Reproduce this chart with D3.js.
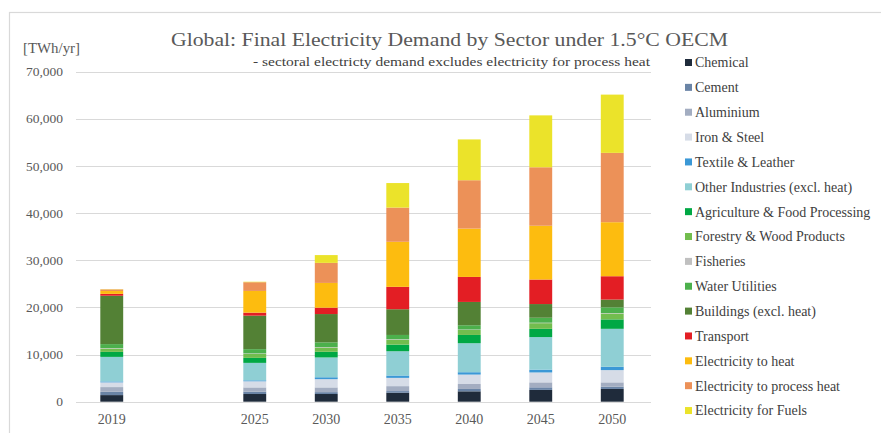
<!DOCTYPE html>
<html>
<head>
<meta charset="utf-8">
<script src="https://cdn.jsdelivr.net/npm/d3@7"></script>
<style>
  html, body { margin: 0; padding: 0; background: #fff; }
  svg { display: block; }
</style>
</head>
<body>
<svg id="chart" width="881" height="433" font-family="'Liberation Serif', 'DejaVu Serif', serif"></svg>
<script>
// ---- data ----
const categories = ["2019", "gap", "2025", "2030", "2035", "2040", "2045", "2050"];
const years = ["2019", "2025", "2030", "2035", "2040", "2045", "2050"];
const sectors = [
  "Chemical", "Cement", "Aluminium", "Iron & Steel", "Textile & Leather",
  "Other Industries (excl. heat)", "Agriculture & Food Processing",
  "Forestry & Wood Products", "Fisheries", "Water Utilities",
  "Buildings (excl. heat)", "Transport", "Electricity to heat",
  "Electricity to process heat", "Electricity for Fuels"
];
const sectorColors = [
  "#1f2b3b", "#6a84a6", "#a3adc1", "#d6dce7", "#3b98d6",
  "#8fcfd4", "#00a844", "#72bd4e", "#c0c0c0", "#4cb04c",
  "#538135", "#e31e24", "#fdbc0f", "#ec9158", "#ebe32a"
];
// values in TWh/yr, one array per sector, aligned to `years`
const chemical      = [1400, 1630, 1630, 1900, 2200, 2500, 2700];
const cement        = [ 700,  500,  400,  350,  500,  550,  500];
const aluminium     = [1000,  900, 1000, 1050, 1050, 1050,  900];
const ironSteel     = [1000, 1300, 1750, 1750, 2000, 2100, 2600];
const textile       = [ 200,  200,  400,  500,  500,  600,  700];
const otherInd      = [5200, 3700, 4200, 5150, 6150, 6900, 8050];
const agriculture   = [1060, 1060, 1200, 1400, 1750, 1750, 2000];
const forestry      = [ 700,  850,  900, 1050, 1050, 1200, 1250];
const fisheries     = [ 100,  100,  100,  100,  100,  100,  100];
const water         = [ 850,  900, 1000,  900,  900, 1050, 1200];
const buildings     = [10250, 7100, 6000, 5450, 4950, 2900, 1650];
const transport     = [ 400,  640, 1350, 4750, 5300, 5200, 4950];
const elecHeat      = [ 600, 4600, 5250, 9550, 10250, 11400, 11450];
const processHeat   = [ 350, 1850, 4250, 7250, 10250, 12400, 14700];
const fuels         = [  50,  100, 1650, 5200, 8650, 11000, 12350];
const seriesValues = [chemical, cement, aluminium, ironSteel, textile, otherInd,
  agriculture, forestry, fisheries, water, buildings, transport, elecHeat, processHeat, fuels];
const yTicks = [0, 10000, 20000, 30000, 40000, 50000, 60000, 70000];

// ---- build table ----
const table = years.map((y, i) => {
  const row = { year: y };
  sectors.forEach((s, j) => row[s] = seriesValues[j][i]);
  return row;
});

const svg = d3.select("#chart");

// chart frame
svg.append("rect").attr("x", 9.5).attr("y", 12.5).attr("width", 900).attr("height", 450)
  .attr("fill", "none").attr("stroke", "#d9d9d9").attr("stroke-width", 1.2);

const x = d3.scaleBand().domain(categories).range([76, 648]).paddingInner(0.68).paddingOuter(0.34);
const y = d3.scaleLinear().domain([0, 70000]).range([401.7, 71.5]);

// gridlines
svg.append("g").selectAll("line").data(yTicks).join("line")
  .attr("x1", 76).attr("x2", 651)
  .attr("y1", d => Math.round(y(d)) + 0.5).attr("y2", d => Math.round(y(d)) + 0.5)
  .attr("stroke", "#d9d9d9").attr("stroke-width", 1);

// y axis labels
const fmt = d3.format(",");
svg.append("g").selectAll("text").data(yTicks).join("text")
  .attr("x", 63).attr("y", d => y(d)).attr("dy", "0.35em")
  .attr("text-anchor", "end").attr("font-size", 13.5).attr("fill", "#595959")
  .text(d => fmt(d));

// bars
const stack = d3.stack().keys(sectors);
const stacked = stack(table);
svg.append("g").selectAll("g").data(stacked).join("g")
  .attr("fill", (d, i) => sectorColors[i])
  .selectAll("rect").data(d => d).join("rect")
  .attr("x", d => x(d.data.year))
  .attr("width", x.bandwidth())
  .attr("y", d => y(d[1]))
  .attr("height", d => Math.max(0, y(d[0]) - y(d[1])));

// x labels
svg.append("g").selectAll("text").data(years).join("text")
  .attr("x", d => x(d) + x.bandwidth() / 2).attr("y", 423.5)
  .attr("text-anchor", "middle").attr("font-size", 14).attr("fill", "#595959")
  .text(d => d);

// titles
svg.append("text").attr("x", 171).attr("y", 46)
  .attr("font-size", 19).attr("fill", "#595959")
  .attr("textLength", 557).attr("lengthAdjust", "spacingAndGlyphs")
  .text("Global: Final Electricity Demand by Sector under 1.5\u00B0C OECM");
svg.append("text").attr("x", 253).attr("y", 65.5)
  .attr("font-size", 12.5).attr("fill", "#404040")
  .attr("textLength", 397).attr("lengthAdjust", "spacingAndGlyphs")
  .text("- sectoral electricty demand excludes electricity for process heat");
svg.append("text").attr("x", 23).attr("y", 53).attr("font-size", 14.5).attr("fill", "#595959")
  .attr("textLength", 57).attr("lengthAdjust", "spacingAndGlyphs")
  .text("[TWh/yr]");

// legend
const lg = svg.append("g").selectAll("g").data(sectors).join("g")
  .attr("transform", (d, i) => `translate(685, ${62.5 + i * 24.86})`);
lg.append("rect").attr("x", 0).attr("y", -3.5).attr("width", 7).attr("height", 7)
  .attr("fill", (d, i) => sectorColors[i]);
lg.append("text").attr("x", 10).attr("y", 0).attr("dy", "0.35em")
  .attr("font-size", 14).attr("fill", "#404040").text(d => d);
</script>
</body>
</html>
